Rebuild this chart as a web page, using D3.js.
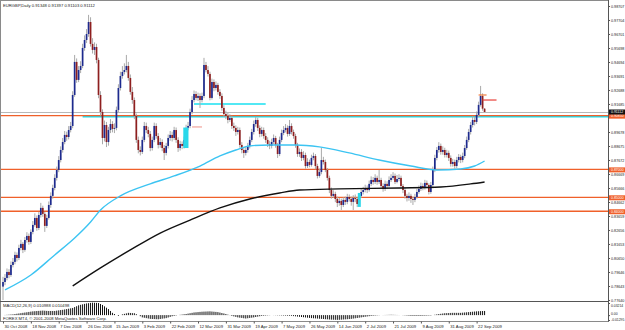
<!DOCTYPE html>
<html>
<head>
<meta charset="utf-8">
<script src="https://cdn.jsdelivr.net/npm/d3@7"></script>
<style>
  html, body { margin: 0; padding: 0; background: #fff; }
  svg { display: block; font-family: 'Liberation Sans', Arial, sans-serif; }
</style>
</head>
<body>
<div id="chart"></div>
<script>
const title = 'EURGBP,Daily  0.91348 0.91397 0.91103 0.91112'
const macdTitle = 'MACD(12,26,9) 0.010988 0.010498'
const copyright = 'FOREX MT4, \u00a9 2001-2008 MetaQuotes Software Corp.'

// daily bars, 30 Oct 2008 ... late Sep 2009
const opens = [
  0.7860,0.7893,0.7922,0.7965,0.7943,0.8015,0.8037,0.8087,0.8065,0.8137,
  0.8166,0.8123,0.8194,0.8223,0.8180,0.8252,0.8302,0.8352,0.8280,0.8373,
  0.8424,0.8381,0.8295,0.8352,0.8445,0.8510,0.8567,0.8639,0.8696,0.8767,
  0.8839,0.8896,0.8947,0.8932,0.8982,0.9011,0.9233,0.9470,0.9341,0.9412,
  0.9441,0.9570,0.9627,0.9670,0.9756,0.9599,0.9556,0.9577,0.9484,0.9233,
  0.9111,0.8925,0.9018,0.8896,0.8982,0.9025,0.8990,0.8997,0.9126,0.9283,
  0.9369,0.9398,0.9412,0.9441,0.9355,0.9255,0.9197,0.9083,0.8911,0.8839,
  0.8825,0.8911,0.9011,0.8982,0.8954,0.8853,0.8911,0.9011,0.8939,0.8875,
  0.8896,0.8853,0.8818,0.8868,0.8925,0.8947,0.8925,0.8982,0.8911,0.8853,
  0.8882,0.8868,0.8911,0.8997,0.9011,0.9111,0.9197,0.9240,0.9212,0.9226,
  0.9197,0.9226,0.9448,0.9412,0.9384,0.9212,0.9326,0.9283,0.9305,0.9255,
  0.9226,0.9140,0.9097,0.9083,0.9054,0.9068,0.9011,0.8997,0.8968,0.8982,
  0.8875,0.8839,0.8818,0.8839,0.8868,0.8911,0.8968,0.9025,0.9054,0.8997,
  0.8954,0.8982,0.8939,0.8911,0.8882,0.8868,0.8896,0.8925,0.8875,0.8810,
  0.8911,0.8961,0.8982,0.8997,0.8954,0.9011,0.8968,0.8939,0.8875,0.8810,
  0.8825,0.8782,0.8803,0.8724,0.8753,0.8732,0.8782,0.8796,0.8724,0.8653,
  0.8681,0.8767,0.8753,0.8696,0.8639,0.8552,0.8510,0.8524,0.8488,0.8459,
  0.8474,0.8445,0.8481,0.8467,0.8502,0.8488,0.8467,0.8495,0.8488,0.8452,
  0.8510,0.8538,0.8552,0.8567,0.8552,0.8596,0.8624,0.8610,0.8639,0.8610,
  0.8624,0.8581,0.8560,0.8596,0.8581,0.8624,0.8639,0.8653,0.8610,0.8631,
  0.8639,0.8581,0.8552,0.8510,0.8495,0.8510,0.8488,0.8481,0.8502,0.8538,
  0.8560,0.8581,0.8567,0.8603,0.8588,0.8538,0.8588,0.8696,0.8782,0.8839,
  0.8868,0.8825,0.8839,0.8803,0.8818,0.8782,0.8739,0.8753,0.8724,0.8767,
  0.8789,0.8767,0.8796,0.8853,0.8911,0.8968,0.9018,0.9054,0.9040,0.9090,
  0.9162,0.9226,0.91348
]
const highs = [
  0.7930,0.7950,0.7990,0.7985,0.8040,0.8065,0.8110,0.8105,0.8160,0.8195,
  0.8180,0.8215,0.8250,0.8240,0.8270,0.8330,0.8385,0.8370,0.8395,0.8460,
  0.8440,0.8395,0.8375,0.8470,0.8535,0.8590,0.8665,0.8720,0.8795,0.8865,
  0.8925,0.8975,0.8970,0.9010,0.9040,0.9260,0.9520,0.9495,0.9440,0.9475,
  0.9600,0.9660,0.9705,0.9807,0.9790,0.9640,0.9610,0.9600,0.9500,0.9260,
  0.9130,0.9050,0.9040,0.9005,0.9060,0.9045,0.9030,0.9150,0.9310,0.9400,
  0.9440,0.9460,0.9520,0.9470,0.9380,0.9290,0.9215,0.9100,0.8935,0.8865,
  0.8935,0.9040,0.9035,0.9005,0.8975,0.8935,0.9035,0.9030,0.8960,0.8925,
  0.8915,0.8875,0.8890,0.8950,0.8975,0.8970,0.9005,0.9000,0.8930,0.8905,
  0.8900,0.8935,0.9020,0.9040,0.9135,0.9225,0.9265,0.9260,0.9250,0.9245,
  0.9250,0.9499,0.9470,0.9440,0.9400,0.9350,0.9345,0.9330,0.9320,0.9275,
  0.9245,0.9160,0.9120,0.9105,0.9095,0.9085,0.9035,0.9015,0.9005,0.9000,
  0.8895,0.8860,0.8865,0.8890,0.8935,0.8990,0.9050,0.9075,0.9070,0.9015,
  0.9005,0.9000,0.8960,0.8930,0.8905,0.8920,0.8950,0.8940,0.8890,0.8935,
  0.8985,0.9010,0.9025,0.9015,0.9054,0.9030,0.8985,0.8955,0.8890,0.8850,
  0.8845,0.8830,0.8820,0.8780,0.8770,0.8805,0.8820,0.8810,0.8740,0.8705,
  0.8853,0.8790,0.8770,0.8710,0.8655,0.8570,0.8550,0.8540,0.8505,0.8495,
  0.8490,0.8500,0.8505,0.8525,0.8520,0.8505,0.8515,0.8520,0.8500,0.8530,
  0.8560,0.8575,0.8590,0.8585,0.8620,0.8650,0.8645,0.8665,0.8655,0.8696,
  0.8640,0.8600,0.8620,0.8615,0.8650,0.8665,0.8680,0.8670,0.8660,0.8665,
  0.8655,0.8595,0.8570,0.8525,0.8535,0.8525,0.8505,0.8525,0.8560,0.8585,
  0.8605,0.8600,0.8625,0.8620,0.8600,0.8610,0.8720,0.8805,0.8860,0.8895,
  0.8885,0.8865,0.8855,0.8840,0.8835,0.8800,0.8775,0.8770,0.8790,0.8810,
  0.8805,0.8820,0.8875,0.8935,0.8990,0.9040,0.9080,0.9075,0.9115,0.9185,
  0.9298,0.9245,0.91397
]
const lows = [
  0.7764,0.7870,0.7905,0.7920,0.7930,0.7998,0.8020,0.8040,0.8050,0.8120,
  0.8100,0.8110,0.8175,0.8160,0.8165,0.8235,0.8290,0.8260,0.8265,0.8355,
  0.8360,0.8252,0.8280,0.8340,0.8425,0.8490,0.8550,0.8620,0.8680,0.8750,
  0.8820,0.8880,0.8905,0.8915,0.8965,0.8995,0.9220,0.9320,0.9325,0.9390,
  0.9425,0.9550,0.9605,0.9650,0.9580,0.9530,0.9520,0.9460,0.9210,0.9085,
  0.8880,0.8900,0.8860,0.8870,0.8960,0.8965,0.8960,0.8980,0.9110,0.9265,
  0.9350,0.9380,0.9395,0.9335,0.9235,0.9170,0.9060,0.8890,0.8815,0.8800,
  0.8810,0.8895,0.8960,0.8930,0.8830,0.8835,0.8895,0.8920,0.8850,0.8855,
  0.8830,0.8767,0.8800,0.8850,0.8905,0.8900,0.8910,0.8890,0.8825,0.8835,
  0.8845,0.8850,0.8895,0.8980,0.8995,0.9095,0.9180,0.9195,0.9190,0.9140,
  0.9180,0.9210,0.9395,0.9365,0.9195,0.9200,0.9260,0.9265,0.9235,0.9205,
  0.9120,0.9075,0.9060,0.9030,0.9040,0.8990,0.8975,0.8940,0.8950,0.8855,
  0.8815,0.8782,0.8800,0.8820,0.8850,0.8895,0.8950,0.9005,0.8975,0.8930,
  0.8935,0.8920,0.8890,0.8860,0.8845,0.8850,0.8880,0.8855,0.8782,0.8795,
  0.8895,0.8945,0.8965,0.8935,0.8940,0.8950,0.8920,0.8855,0.8790,0.8790,
  0.8760,0.8765,0.8705,0.8710,0.8715,0.8720,0.8765,0.8700,0.8635,0.8640,
  0.8665,0.8735,0.8680,0.8620,0.8530,0.8490,0.8495,0.8465,0.8430,0.8440,
  0.8409,0.8430,0.8445,0.8450,0.8470,0.8440,0.8409,0.8465,0.8430,0.8440,
  0.8495,0.8520,0.8535,0.8530,0.8540,0.8580,0.8590,0.8595,0.8590,0.8595,
  0.8565,0.8540,0.8545,0.8560,0.8570,0.8610,0.8625,0.8595,0.8600,0.8615,
  0.8565,0.8530,0.8490,0.8470,0.8475,0.8460,0.8445,0.8465,0.8490,0.8525,
  0.8545,0.8550,0.8555,0.8570,0.8520,0.8525,0.8575,0.8680,0.8765,0.8820,
  0.8805,0.8805,0.8785,0.8785,0.8760,0.8720,0.8720,0.8705,0.8710,0.8750,
  0.8745,0.8750,0.8780,0.8840,0.8895,0.8950,0.9000,0.9015,0.9025,0.9075,
  0.9150,0.9120,0.91103
]
const closes = [
  0.7893,0.7922,0.7965,0.7943,0.8015,0.8037,0.8087,0.8065,0.8137,0.8166,
  0.8123,0.8194,0.8223,0.8180,0.8252,0.8302,0.8352,0.8280,0.8373,0.8424,
  0.8381,0.8295,0.8352,0.8445,0.8510,0.8567,0.8639,0.8696,0.8767,0.8839,
  0.8896,0.8947,0.8932,0.8982,0.9011,0.9233,0.9470,0.9341,0.9412,0.9441,
  0.9570,0.9627,0.9670,0.9756,0.9599,0.9556,0.9577,0.9484,0.9233,0.9111,
  0.8925,0.9018,0.8896,0.8982,0.9025,0.8990,0.8997,0.9126,0.9283,0.9369,
  0.9398,0.9412,0.9441,0.9355,0.9255,0.9197,0.9083,0.8911,0.8839,0.8825,
  0.8911,0.9011,0.8982,0.8954,0.8853,0.8911,0.9011,0.8939,0.8875,0.8896,
  0.8853,0.8818,0.8868,0.8925,0.8947,0.8925,0.8982,0.8911,0.8853,0.8882,
  0.8868,0.8911,0.8997,0.9011,0.9111,0.9197,0.9240,0.9212,0.9226,0.9197,
  0.9226,0.9448,0.9412,0.9384,0.9212,0.9326,0.9283,0.9305,0.9255,0.9226,
  0.9140,0.9097,0.9083,0.9054,0.9068,0.9011,0.8997,0.8968,0.8982,0.8875,
  0.8839,0.8818,0.8839,0.8868,0.8911,0.8968,0.9025,0.9054,0.8997,0.8954,
  0.8982,0.8939,0.8911,0.8882,0.8868,0.8896,0.8925,0.8875,0.8810,0.8911,
  0.8961,0.8982,0.8997,0.8954,0.9011,0.8968,0.8939,0.8875,0.8810,0.8825,
  0.8782,0.8803,0.8724,0.8753,0.8732,0.8782,0.8796,0.8724,0.8653,0.8681,
  0.8767,0.8753,0.8696,0.8639,0.8552,0.8510,0.8524,0.8488,0.8459,0.8474,
  0.8445,0.8481,0.8467,0.8502,0.8488,0.8467,0.8495,0.8488,0.8452,0.8510,
  0.8538,0.8552,0.8567,0.8552,0.8596,0.8624,0.8610,0.8639,0.8610,0.8624,
  0.8581,0.8560,0.8596,0.8581,0.8624,0.8639,0.8653,0.8610,0.8631,0.8639,
  0.8581,0.8552,0.8510,0.8495,0.8510,0.8488,0.8481,0.8502,0.8538,0.8560,
  0.8581,0.8567,0.8603,0.8588,0.8538,0.8588,0.8696,0.8782,0.8839,0.8868,
  0.8825,0.8839,0.8803,0.8818,0.8782,0.8739,0.8753,0.8724,0.8767,0.8789,
  0.8767,0.8796,0.8853,0.8911,0.8968,0.9018,0.9054,0.9040,0.9090,0.9162,
  0.9226,0.9135,0.91112
]
const macdHist = [
  0.0000,0.0004,0.0008,0.0012,0.0016,0.0020,0.0028,0.0036,0.0044,0.0052,
  0.0060,0.0068,0.0076,0.0084,0.0092,0.0100,0.0104,0.0108,0.0112,0.0116,
  0.0120,0.0116,0.0112,0.0110,0.0110,0.0110,0.0110,0.0118,0.0126,0.0134,
  0.0140,0.0150,0.0160,0.0170,0.0180,0.0190,0.0213,0.0236,0.0260,0.0273,
  0.0286,0.0298,0.0310,0.0317,0.0324,0.0330,0.0327,0.0324,0.0320,0.0295,
  0.0270,0.0233,0.0196,0.0160,0.0110,0.0060,0.0030,0.0000,-0.0020,0.0000,
  0.0020,0.0033,0.0046,0.0060,0.0057,0.0053,0.0050,0.0025,0.0000,-0.0030,
  -0.0060,-0.0070,-0.0080,-0.0090,-0.0100,-0.0103,-0.0105,-0.0108,-0.0110,-0.0103,
  -0.0095,-0.0088,-0.0080,-0.0063,-0.0047,-0.0030,-0.0020,-0.0010,0.0000,0.0008,
  0.0015,0.0023,0.0030,0.0040,0.0050,0.0060,0.0070,0.0075,0.0080,0.0085,
  0.0090,0.0093,0.0095,0.0098,0.0100,0.0095,0.0090,0.0085,0.0080,0.0068,
  0.0055,0.0043,0.0030,0.0013,-0.0003,-0.0020,-0.0033,-0.0047,-0.0060,-0.0068,
  -0.0075,-0.0083,-0.0090,-0.0083,-0.0075,-0.0068,-0.0060,-0.0050,-0.0040,-0.0030,
  -0.0020,-0.0016,-0.0012,-0.0008,-0.0004,0.0000,-0.0002,-0.0004,-0.0006,-0.0008,
  -0.0010,-0.0012,-0.0014,-0.0016,-0.0018,-0.0020,-0.0026,-0.0032,-0.0038,-0.0044,
  -0.0050,-0.0056,-0.0062,-0.0068,-0.0074,-0.0080,-0.0084,-0.0088,-0.0092,-0.0096,
  -0.0100,-0.0104,-0.0108,-0.0112,-0.0116,-0.0120,-0.0122,-0.0124,-0.0126,-0.0124,
  -0.0120,-0.0116,-0.0112,-0.0108,-0.0104,-0.0100,-0.0092,-0.0084,-0.0076,-0.0068,
  -0.0060,-0.0052,-0.0044,-0.0036,-0.0028,-0.0020,-0.0016,-0.0012,-0.0008,-0.0004,
  0.0000,0.0002,0.0004,0.0006,0.0008,0.0010,0.0008,0.0006,0.0004,0.0002,
  0.0000,-0.0004,-0.0008,-0.0012,-0.0016,-0.0020,-0.0020,-0.0020,-0.0020,-0.0020,
  -0.0020,-0.0018,-0.0016,-0.0014,-0.0012,-0.0010,0.0000,0.0010,0.0020,0.0028,
  0.0035,0.0043,0.0050,0.0053,0.0055,0.0058,0.0060,0.0060,0.0060,0.0060,
  0.0060,0.0065,0.0070,0.0075,0.0080,0.0085,0.0090,0.0095,0.0100,0.0103,
  0.0106,0.0109,0.0110
]

// moving averages: [bar, price]
const maBlue = [
  [1,0.7836],[14,0.7943],[26,0.8087],[36,0.8208],[44,0.8323],[49,0.8409],[59,0.8510],
  [74,0.8596],[86,0.8653],[99,0.8724],[109,0.8796],[117,0.8839],[124,0.8868],[134,0.8875],
  [147,0.8875],[159,0.8861],[174,0.8818],[189,0.8767],[205,0.8724],[218,0.8696],
  [230,0.8703],[237,0.8724],[242,0.8760]
]
const maBlack = [
  [35,0.7865],[49,0.7994],[64,0.8123],[79,0.8244],[94,0.8337],[109,0.8424],[124,0.8488],
  [139,0.8531],[149,0.8552],[169,0.8560],[199,0.8567],[220,0.8574],[235,0.8596],[242,0.8610]
]

const levels = [0.9085, 0.8700, 0.8500, 0.8400]
const bid = 0.91112
const cyanLines = [
  { from: 40, to: 305, price: 0.9078 },
  { from: 96, to: 132, price: 0.9169 }
]
const marks = [
  { from: 95, to: 100, price: 0.9004, color: '#f2a49c' },
  { from: 239, to: 243, price: 0.9233, color: '#f07b3c' },
  { from: 241, to: 248, price: 0.9197, color: '#e8403a' }
]
const boxes = [
  { from: 90.6, to: 93.2, top: 0.9000, bottom: 0.8853 },
  { from: 178.3, to: 179.8, top: 0.8531, bottom: 0.8431 }
]

// scale labels (the one at 0.90682 sits under the level boxes and is not shown)
const priceTicks = [
  0.77640,0.78643,0.79646,0.80650,0.81653,0.82656,0.83659,0.84662,0.85666,0.86669,0.87672,
  0.88675,0.89678,0.91685,0.92688,0.93691,0.94694,0.95698,0.96701,0.97704,0.98707
]
const macdTicks = [0.03214, 0, -0.01295]
const macdTickText = ['0.03214', '0.00', '-0.01295']
const dateIdx = [0,14,28,42,56,70,84,98,112,126,140,154,168,182,196,210,224,238]
const dateLabels = [
  '30 Oct 2008','18 Nov 2008','7 Dec 2008','26 Dec 2008','15 Jan 2009','3 Feb 2009',
  '22 Feb 2009','12 Mar 2009','31 Mar 2009','19 Apr 2009','7 May 2009','26 May 2009',
  '14 Jun 2009','2 Jul 2009','21 Jul 2009','9 Aug 2009','31 Aug 2009','22 Sep 2009'
]

const W = 625, H = 330
const axisX = 608
const main = { top: 1, bottom: 301 }
const sub = { top: 302, bottom: 321 }
const orange = '#f0602a'

const x = d3.scaleLinear().domain([0, 242]).range([3, 3 + 1.99 * 242])
const y = d3.scaleLinear().domain([0.7764, 0.98707]).range([300, 6])
const ym = d3.scaleLinear().domain([-0.01295, 0.03214]).range([320, 303])

const svg = d3.select('#chart')
  .append('svg')
  .attr('width', W)
  .attr('height', H)

svg.append('rect').attr('width', W).attr('height', H).attr('fill', '#fff')

const defs = svg.append('defs')
defs.append('clipPath').attr('id', 'clip-main')
  .append('rect').attr('x', 1).attr('y', main.top).attr('width', axisX - 1).attr('height', main.bottom - main.top)
defs.append('clipPath').attr('id', 'clip-sub')
  .append('rect').attr('x', 1).attr('y', sub.top).attr('width', axisX - 1).attr('height', sub.bottom - sub.top)

const g = svg.append('g').attr('clip-path', 'url(#clip-main)')

// bid line
g.append('line')
  .attr('x1', 1).attr('x2', axisX)
  .attr('y1', Math.round(y(bid)) + 0.5).attr('y2', Math.round(y(bid)) + 0.5)
  .attr('stroke', '#b8b8b8')

// object lines behind the bars
cyanLines.forEach(l => {
  g.append('line')
    .attr('x1', x(l.from)).attr('x2', Math.min(axisX, x(l.to)))
    .attr('y1', y(l.price)).attr('y2', y(l.price))
    .attr('stroke', '#19e0f0').attr('stroke-width', 1.6)
})
levels.forEach(p => {
  g.append('line')
    .attr('x1', 1).attr('x2', axisX)
    .attr('y1', y(p)).attr('y2', y(p))
    .attr('stroke', orange).attr('stroke-width', 1.3)
})

const bars = closes.map((c, i) => ({ i, o: opens[i], h: highs[i], l: lows[i], c }))

g.selectAll('.wick')
  .data(bars)
  .enter()
  .append('line')
  .attr('class', 'wick')
  .attr('x1', d => x(d.i)).attr('x2', d => x(d.i))
  .attr('y1', d => y(d.h)).attr('y2', d => y(d.l))
  .attr('stroke', '#a9a9a9')
  .attr('stroke-width', 1)

g.selectAll('.body')
  .data(bars)
  .enter()
  .append('rect')
  .attr('class', 'body')
  .attr('x', d => x(d.i) - 0.85)
  .attr('width', 1.7)
  .attr('y', d => y(Math.max(d.o, d.c)))
  .attr('height', d => Math.max(0.8, Math.abs(y(d.o) - y(d.c))))
  .attr('fill', d => d.c >= d.o ? '#1d2a8e' : '#8e1f1f')

boxes.forEach(b => {
  g.append('rect')
    .attr('x', x(b.from)).attr('width', x(b.to) - x(b.from))
    .attr('y', y(b.top)).attr('height', y(b.bottom) - y(b.top))
    .attr('fill', '#2ad8ea')
})

marks.forEach(m => {
  g.append('line')
    .attr('x1', x(m.from)).attr('x2', x(m.to))
    .attr('y1', y(m.price)).attr('y2', y(m.price))
    .attr('stroke', m.color).attr('stroke-width', 1.2)
})

const maLine = d3.line()
  .x(d => x(d[0]))
  .y(d => y(d[1]))
  .curve(d3.curveMonotoneX)

g.append('path')
  .attr('d', maLine(maBlue))
  .attr('fill', 'none')
  .attr('stroke', '#3cc4f2')
  .attr('stroke-width', 1.4)

g.append('path')
  .attr('d', maLine(maBlack))
  .attr('fill', 'none')
  .attr('stroke', '#111')
  .attr('stroke-width', 1.4)

// MACD window
const gs = svg.append('g').attr('clip-path', 'url(#clip-sub)')
gs.selectAll('.hist')
  .data(macdHist)
  .enter()
  .append('line')
  .attr('class', 'hist')
  .attr('x1', (d, i) => x(i)).attr('x2', (d, i) => x(i))
  .attr('y1', ym(0)).attr('y2', d => ym(d))
  .attr('stroke', '#111')
  .attr('stroke-width', 1)

// frames
svg.append('rect')
  .attr('x', 0.5).attr('y', 0.5)
  .attr('width', axisX).attr('height', sub.bottom)
  .attr('fill', 'none').attr('stroke', '#8a8a8a')
svg.append('line')
  .attr('x1', 0).attr('x2', axisX + 0.5)
  .attr('y1', main.bottom + 0.5).attr('y2', main.bottom + 0.5)
  .attr('stroke', '#555')
svg.append('line')
  .attr('x1', axisX + 0.5).attr('x2', axisX + 0.5)
  .attr('y1', 0).attr('y2', sub.bottom + 0.5)
  .attr('stroke', '#555')

const small = sel => sel.attr('font-size', 4.2).attr('fill', '#222')

// price axis
const yAxis = d3.axisRight(y)
  .tickValues(priceTicks)
  .tickFormat(d3.format('.5f'))
  .tickSize(1.5)
  .tickPadding(1)

svg.append('g')
  .attr('transform', `translate(${axisX + 0.5},0)`)
  .call(yAxis)
  .call(a => a.select('.domain').remove())
  .call(a => a.selectAll('line').attr('stroke', '#555'))
  .call(a => a.selectAll('text').attr('font-family', null).attr('font-size', 3.7).attr('fill', '#222'))

// MACD axis, labels hang below their level like the terminal draws them
svg.append('g')
  .attr('transform', `translate(${axisX + 0.5},0)`)
  .call(d3.axisRight(ym).tickValues(macdTicks).tickFormat((d, i) => macdTickText[i]).tickSize(1.5).tickPadding(1))
  .call(a => a.select('.domain').remove())
  .call(a => a.selectAll('line').attr('stroke', '#555'))
  .call(a => a.selectAll('text')
    .attr('font-family', null)
    .attr('font-size', 3.4)
    .attr('fill', '#222')
    .attr('dy', (d, i) => [3.6, -0.4, 0.9][i]))

// level and bid labels
levels.concat([bid]).forEach((p, k) => {
  const isBid = k === levels.length
  const cy = y(p) + (isBid ? 0 : 0.5)
  svg.append('rect')
    .attr('x', axisX + 1).attr('y', cy - 2.5)
    .attr('width', W - axisX).attr('height', 5)
    .attr('fill', isBid ? '#111' : orange)
  svg.append('text')
    .attr('x', axisX + 3).attr('y', cy + 1.2)
    .attr('font-size', 3.5)
    .attr('fill', '#fff')
    .text(d3.format('.5f')(p))
})

// date axis
svg.append('g')
  .attr('transform', `translate(0,${sub.bottom + 0.5})`)
  .call(d3.axisBottom(x).tickValues(dateIdx).tickFormat((d, i) => dateLabels[i]).tickSize(2).tickPadding(2))
  .call(a => a.select('.domain').remove())
  .call(a => a.selectAll('line').attr('stroke', '#555'))
  .call(a => a.selectAll('text')
    .attr('font-family', null)
    .attr('text-anchor', 'start')
    .attr('dx', 1)
    .call(small))

// captions
svg.append('text').attr('x', 3).attr('y', 7).text(title).call(small)
svg.append('text').attr('x', 3).attr('y', 307).text(macdTitle).call(small)
svg.append('text').attr('x', 3).attr('y', 319.5).text(copyright).call(small)
</script>
</body>
</html>
